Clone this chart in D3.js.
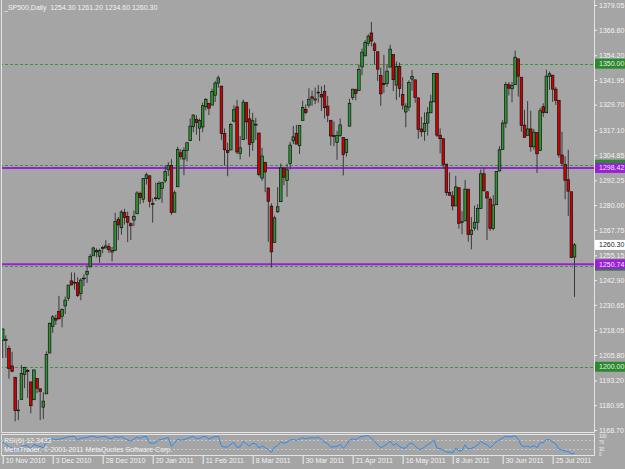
<!DOCTYPE html>
<html lang="en">
<head>
<meta charset="UTF-8">
<title>SP500 Daily</title>
<script src="https://d3js.org/d3.v7.min.js"></script>
<style>
  body { margin: 0; background: #a5a5a5; }
  svg { display: block; }
  text { font-family: "Liberation Sans", Arial, sans-serif; font-size: 7px; fill: #f2f2f2; }
  .axis path { display: none; }
  .axis line { stroke: #eeeeee; }
  .rsi-axis text { font-size: 4.5px; }
</style>
</head>
<body>
<script>
// trading days shown on the chart
const dates = [
  "2010.11.10","2010.11.11","2010.11.12","2010.11.15","2010.11.16","2010.11.17","2010.11.18","2010.11.19","2010.11.22","2010.11.23","2010.11.24","2010.11.26","2010.11.29","2010.11.30",
  "2010.12.01","2010.12.02","2010.12.03","2010.12.06","2010.12.07","2010.12.08","2010.12.09","2010.12.10","2010.12.13","2010.12.14","2010.12.15","2010.12.16","2010.12.17","2010.12.20","2010.12.21","2010.12.22","2010.12.23","2010.12.27","2010.12.28","2010.12.29","2010.12.30","2010.12.31",
  "2011.01.03","2011.01.04","2011.01.05","2011.01.06","2011.01.07","2011.01.10","2011.01.11","2011.01.12","2011.01.13","2011.01.14","2011.01.18","2011.01.19","2011.01.20","2011.01.21","2011.01.24","2011.01.25","2011.01.26","2011.01.27","2011.01.28","2011.01.31",
  "2011.02.01","2011.02.02","2011.02.03","2011.02.04","2011.02.07","2011.02.08","2011.02.09","2011.02.10","2011.02.11","2011.02.14","2011.02.15","2011.02.16","2011.02.17","2011.02.18","2011.02.22","2011.02.23","2011.02.24","2011.02.25","2011.02.28",
  "2011.03.01","2011.03.02","2011.03.03","2011.03.04","2011.03.07","2011.03.08","2011.03.09","2011.03.10","2011.03.11","2011.03.14","2011.03.15","2011.03.16","2011.03.17","2011.03.18","2011.03.21","2011.03.22","2011.03.23","2011.03.24","2011.03.25","2011.03.28","2011.03.29","2011.03.30","2011.03.31",
  "2011.04.01","2011.04.04","2011.04.05","2011.04.06","2011.04.07","2011.04.08","2011.04.11","2011.04.12","2011.04.13","2011.04.14","2011.04.15","2011.04.18","2011.04.19","2011.04.20","2011.04.21","2011.04.25","2011.04.26","2011.04.27","2011.04.28","2011.04.29",
  "2011.05.02","2011.05.03","2011.05.04","2011.05.05","2011.05.06","2011.05.09","2011.05.10","2011.05.11","2011.05.12","2011.05.13","2011.05.16","2011.05.17","2011.05.18","2011.05.19","2011.05.20","2011.05.23","2011.05.24","2011.05.25","2011.05.26","2011.05.27","2011.05.31",
  "2011.06.01","2011.06.02","2011.06.03","2011.06.06","2011.06.07","2011.06.08","2011.06.09","2011.06.10","2011.06.13","2011.06.14","2011.06.15","2011.06.16","2011.06.17","2011.06.20","2011.06.21","2011.06.22","2011.06.23","2011.06.24","2011.06.27","2011.06.28","2011.06.29","2011.06.30",
  "2011.07.01","2011.07.05","2011.07.06","2011.07.07","2011.07.08","2011.07.11","2011.07.12","2011.07.13","2011.07.14","2011.07.15","2011.07.18","2011.07.19","2011.07.20","2011.07.21","2011.07.22","2011.07.25","2011.07.26","2011.07.27","2011.07.28","2011.07.29",
  "2011.08.01","2011.08.02","2011.08.03"
];

const open = [
  1213.1,1213.0,1209.1,1200.4,1194.8,1178.3,1183.8,1196.1,1198.1,1192.5,1183.7,1194.2,1189.1,1180.0,
  1186.6,1206.8,1219.9,1223.9,1227.3,1225.0,1230.1,1233.9,1242.5,1241.8,1241.6,1236.3,1243.6,1245.8,1249.4,1254.9,1257.5,1254.7,1259.1,1258.8,1259.4,1256.8,
  1257.6,1273.0,1268.8,1276.3,1274.4,1270.8,1272.6,1275.7,1285.8,1282.9,1293.2,1294.5,1280.9,1283.6,1283.3,1288.2,1292.0,1297.5,1299.6,1276.5,
  1289.1,1305.9,1302.8,1307.0,1311.9,1318.8,1322.5,1318.1,1318.7,1328.7,1330.4,1329.5,1334.4,1340.4,1338.9,1315.4,1307.1,1307.3,1321.6,
  1328.6,1305.5,1312.4,1330.7,1322.7,1311.1,1319.9,1315.7,1293.4,1301.2,1288.5,1279.5,1261.6,1276.7,1281.7,1298.3,1292.2,1300.6,1311.8,1315.5,1309.4,1321.9,1327.4,
  1329.5,1333.6,1332.0,1335.9,1334.8,1336.2,1329.0,1322.0,1314.0,1311.1,1314.5,1313.4,1306.0,1319.1,1333.2,1337.1,1336.8,1348.4,1353.9,1360.1,
  1365.2,1359.8,1355.9,1344.2,1340.2,1340.2,1348.3,1354.5,1339.4,1348.7,1334.8,1326.1,1328.5,1342.4,1342.0,1333.1,1317.7,1316.4,1320.6,1325.7,1331.1,
  1345.2,1314.6,1312.9,1300.3,1286.3,1284.6,1279.6,1288.6,1271.6,1272.2,1287.9,1265.5,1268.6,1271.5,1278.4,1295.5,1286.6,1283.0,1268.4,1280.2,1296.9,1307.6,
  1320.6,1339.6,1337.6,1339.6,1352.4,1343.3,1319.6,1314.5,1317.7,1308.9,1315.9,1307.1,1328.7,1325.7,1343.8,1344.3,1337.4,1331.9,1304.8,1300.1,
  1292.6,1286.6,1254.3
];

const high = [
  1218.8,1215.5,1210.5,1207.4,1194.8,1183.6,1200.9,1200.0,1198.9,1192.5,1198.6,1194.2,1189.1,1187.4,
  1207.6,1221.9,1225.6,1225.8,1235.1,1228.9,1234.7,1240.4,1246.7,1246.6,1244.3,1243.8,1245.8,1250.2,1255.8,1259.4,1258.6,1258.4,1259.9,1262.6,1261.1,1259.3,
  1276.2,1274.1,1277.6,1278.2,1276.8,1271.5,1277.3,1286.9,1286.7,1293.2,1296.1,1294.6,1283.4,1291.2,1291.9,1291.3,1299.7,1301.3,1302.7,1287.2,
  1308.9,1307.6,1308.6,1311.0,1322.9,1324.9,1324.5,1322.8,1330.8,1333.0,1330.4,1337.6,1341.5,1344.1,1338.9,1317.9,1310.9,1320.6,1329.4,
  1332.1,1314.2,1332.3,1331.1,1327.7,1325.7,1323.2,1315.7,1308.4,1301.2,1288.5,1280.9,1274.8,1288.9,1300.6,1299.0,1300.5,1311.3,1319.2,1319.7,1319.5,1331.7,1329.8,
  1337.8,1336.7,1338.2,1339.4,1338.8,1339.5,1334.0,1322.0,1321.4,1316.8,1322.9,1313.4,1312.7,1332.7,1337.5,1337.6,1349.6,1357.5,1361.7,1364.6,
  1370.6,1360.8,1355.9,1348.0,1354.4,1349.4,1359.4,1354.5,1351.1,1350.5,1343.3,1330.4,1341.8,1346.8,1342.0,1333.1,1323.7,1325.9,1328.5,1334.6,1345.2,
  1345.2,1318.0,1312.9,1300.3,1296.2,1287.0,1294.5,1288.6,1277.0,1292.5,1287.9,1274.1,1279.8,1280.4,1297.6,1298.6,1286.8,1283.9,1284.9,1296.8,1309.2,1322.0,
  1341.0,1340.9,1340.9,1356.5,1352.4,1343.3,1327.2,1331.5,1326.7,1317.7,1315.9,1328.1,1330.4,1347.0,1346.1,1344.3,1338.5,1331.9,1316.3,1304.2,
  1307.4,1286.6,1261.2
];

const low = [
  1204.3,1204.5,1194.1,1197.2,1173.0,1173.6,1183.8,1189.4,1184.5,1176.9,1183.7,1186.9,1173.6,1174.1,
  1186.6,1206.8,1216.8,1220.7,1223.3,1219.5,1226.1,1232.6,1240.3,1238.2,1234.5,1232.9,1239.9,1241.5,1249.4,1254.9,1254.1,1251.5,1256.2,1258.8,1256.3,1252.2,
  1257.6,1262.7,1265.4,1270.4,1261.7,1262.7,1269.6,1275.7,1280.5,1281.1,1290.2,1278.9,1271.3,1282.1,1282.5,1281.1,1291.0,1294.4,1275.1,1276.5,
  1289.1,1302.6,1294.8,1301.7,1311.9,1316.0,1314.9,1311.7,1316.1,1326.9,1324.6,1329.5,1331.0,1338.1,1312.3,1299.6,1294.3,1307.3,1320.9,
  1305.2,1302.6,1312.4,1312.6,1304.0,1306.9,1312.3,1294.2,1292.0,1286.4,1261.9,1249.1,1261.6,1276.2,1281.7,1289.9,1284.1,1297.7,1310.2,1310.2,1305.3,1321.9,1325.0,
  1328.2,1329.1,1330.0,1330.7,1326.6,1322.9,1321.1,1309.5,1309.2,1302.4,1313.7,1294.7,1304.0,1319.1,1332.0,1331.9,1336.8,1344.3,1353.6,1358.7,
  1358.6,1349.5,1341.5,1329.2,1335.6,1338.6,1348.3,1336.4,1332.0,1333.4,1327.3,1318.5,1326.6,1336.7,1330.7,1312.9,1313.9,1311.8,1314.4,1325.7,1331.1,
  1313.7,1305.6,1297.9,1284.7,1284.7,1277.4,1279.6,1268.3,1265.6,1272.2,1261.9,1258.1,1267.4,1267.6,1278.4,1286.8,1262.7,1267.2,1267.5,1280.2,1296.9,1307.6,
  1318.3,1334.3,1330.9,1339.6,1333.7,1316.4,1313.3,1314.5,1306.5,1307.4,1295.9,1307.1,1323.7,1325.7,1337.0,1331.1,1329.6,1303.5,1299.2,1282.9,
  1274.7,1254.0,1234.6
];

const close = [
  1218.7,1213.5,1199.2,1197.8,1178.3,1178.6,1196.7,1199.7,1197.8,1180.7,1198.4,1189.4,1187.8,1183.0,
  1206.1,1221.5,1224.7,1223.1,1223.8,1228.3,1233.0,1240.4,1240.5,1241.6,1235.2,1242.9,1243.9,1247.1,1254.6,1258.8,1256.8,1257.5,1258.5,1259.8,1257.9,1257.6,
  1271.9,1270.2,1276.6,1273.9,1271.5,1269.8,1274.5,1286.0,1283.8,1293.2,1295.0,1281.9,1280.3,1283.4,1290.8,1291.2,1296.6,1299.5,1276.3,1286.1,
  1307.6,1304.0,1307.1,1310.9,1319.1,1324.6,1320.9,1321.9,1329.2,1332.3,1328.0,1336.3,1340.4,1343.0,1315.4,1307.4,1306.1,1319.9,1327.2,
  1306.3,1308.4,1331.0,1321.2,1310.1,1321.8,1320.0,1295.1,1304.3,1296.4,1281.9,1256.9,1273.7,1279.2,1298.4,1293.8,1297.5,1309.7,1313.8,1310.2,1319.4,1328.3,1325.8,
  1332.4,1332.9,1332.6,1335.5,1333.5,1328.2,1324.5,1314.2,1314.4,1314.5,1319.7,1305.1,1312.6,1330.4,1337.4,1335.3,1347.2,1355.7,1360.5,1363.6,
  1361.2,1356.6,1347.3,1335.1,1340.2,1346.3,1357.2,1342.1,1348.7,1337.8,1329.5,1329.0,1340.7,1343.6,1333.3,1317.4,1316.3,1320.5,1325.7,1331.1,1345.2,
  1314.6,1312.9,1300.2,1286.2,1284.9,1279.6,1289.0,1271.0,1271.8,1287.9,1265.4,1267.6,1271.5,1278.4,1295.5,1287.1,1283.5,1268.5,1280.1,1296.7,1307.4,1320.6,
  1339.7,1337.9,1339.2,1353.2,1343.8,1319.5,1313.6,1317.7,1308.9,1316.1,1305.4,1326.7,1325.8,1343.8,1345.0,1337.4,1331.9,1304.9,1300.7,1292.3,
  1286.9,1254.1,1260.3
];

// RSI(6)
const rsi = [
  62,55,38,36,20,21,42,47,46,31,52,45,43,36,
  63,74,76,73,74,78,81,86,86,87,70,79,80,83,87,89,83,84,86,87,78,77,
  88,82,86,78,71,67,74,84,78,86,87,58,55,61,72,73,79,82,43,57,
  75,70,73,77,83,87,77,79,85,87,75,82,86,88,45,40,40,52,60,
  38,41,65,54,44,56,54,35,45,38,28,16,40,46,63,57,61,71,74,69,76,81,76,
  80,81,80,83,75,62,55,40,41,42,52,35,48,70,76,72,82,87,89,91,
  79,66,50,36,45,53,66,47,55,43,35,35,54,58,45,31,30,40,50,58,72,
  35,33,25,18,17,14,36,22,24,50,31,34,40,48,66,55,51,36,50,64,72,80,
  88,85,86,91,74,46,41,45,38,47,37,60,59,72,73,62,54,30,27,22,
  20,10,12.34
];

const priceTicks = [1379.05,1366.80,1354.20,1341.95,1329.70,1317.10,1304.85,1292.25,1280.00,
  1267.75,1255.15,1242.90,1230.65,1218.05,1205.80,1193.20,1180.95,1168.70];
const tickDates = ["2010.11.10","2010.12.03","2010.12.28","2011.01.20","2011.02.11","2011.03.08",
  "2011.03.30","2011.04.21","2011.05.16","2011.06.08","2011.06.30","2011.07.25"];
const tickLabels = ["10 Nov 2010","3 Dec 2010","28 Dec 2010","20 Jan 2011","11 Feb 2011","8 Mar 2011",
  "30 Mar 2011","21 Apr 2011","16 May 2011","8 Jun 2011","30 Jun 2011","25 Jul 2011"];
const greenLevels = [1350, 1300, 1250, 1200];
const hiddenGreen = [1300, 1250];   // labels covered by the purple ones
const purpleLevels = [1298.42, 1250.74];
const rsiLevels = [70, 30];
const rsiTicks = [100, 70, 30, 0];

const W = 625, H = 469;
const PANEL_R = 594, PANEL_B = 432;
const GREEN = "#36983a", PURPLE = "#9a20d8";

const svg = d3.select("body").append("svg")
  .attr("width", W)
  .attr("height", H);

svg.append("rect").attr("width", W).attr("height", H).attr("fill", "#a5a5a5");

const x = d3.scalePoint().domain(dates).range([2.7, 574.5]);
const y = d3.scaleLinear().domain([1168.70, 1379.05]).range([430, 5]);
const yr = d3.scaleLinear().domain([0, 100]).range([456, 433.5]);
// the tiny sub window squeezes its scale labels together
const yrLabel = d3.scaleLinear().domain([0, 100]).range([454.5, 436.5]);

svg.append("clipPath").attr("id", "main")
  .append("rect").attr("x", 1).attr("y", 0).attr("width", PANEL_R - 1).attr("height", PANEL_B);
svg.append("clipPath").attr("id", "sub")
  .append("rect").attr("x", 1).attr("y", 435).attr("width", PANEL_R - 1).attr("height", 20);

// horizontal levels
const levels = svg.append("g").attr("clip-path", "url(#main)");
levels.selectAll(".glevel")
  .data(greenLevels)
  .enter().append("line")
  .attr("x1", 0).attr("x2", PANEL_R)
  .attr("y1", d => Math.round(y(d)) + 0.5).attr("y2", d => Math.round(y(d)) + 0.5)
  .attr("stroke", GREEN).attr("stroke-dasharray", "3,2");
levels.selectAll(".plevel")
  .data(purpleLevels)
  .enter().append("line")
  .attr("x1", 0).attr("x2", PANEL_R)
  .attr("y1", d => y(d)).attr("y2", d => y(d))
  .attr("stroke", PURPLE).attr("stroke-width", 2);

// candles
const bars = dates.map((d, i) => ({ d, o: open[i], h: high[i], l: low[i], c: close[i] }));
const candles = svg.append("g").attr("clip-path", "url(#main)");
const bw = 2.6;

candles.selectAll(".wick")
  .data(bars)
  .enter().append("line")
  .attr("x1", b => x(b.d)).attr("x2", b => x(b.d))
  .attr("y1", b => y(b.h)).attr("y2", b => y(b.l))
  .attr("stroke", "#3a3a3a").attr("stroke-width", 1);

candles.selectAll(".body")
  .data(bars)
  .enter().append("rect")
  .attr("x", b => x(b.d) - bw / 2)
  .attr("y", b => y(Math.max(b.o, b.c)))
  .attr("width", bw)
  .attr("height", b => Math.max(0.8, Math.abs(y(b.o) - y(b.c))))
  .attr("fill", b => b.c > b.o ? "#2e9432" : (b.c < b.o ? "#d00000" : "#000"))
  .attr("stroke", "#111")
  .attr("stroke-width", 0.7);

// frames
svg.append("path")
  .attr("d", `M1.5,0 V${PANEL_B + 0.5} H${PANEL_R + 0.5} V0`)
  .attr("fill", "none").attr("stroke", "#e4e4e4");
svg.append("rect")
  .attr("x", 1.5).attr("y", 434.5).attr("width", PANEL_R - 1).attr("height", 21)
  .attr("fill", "none").attr("stroke", "#e4e4e4");

// price axis
svg.append("g")
  .attr("class", "axis")
  .attr("transform", `translate(${PANEL_R},0)`)
  .call(d3.axisRight(y).tickValues(priceTicks).tickSize(3).tickPadding(2).tickFormat(d3.format(".2f")));

// coloured price boxes
function priceBox(p, fill, txt, label) {
  const g = svg.append("g").attr("transform", `translate(${PANEL_R + 1},${y(p)})`);
  g.append("rect").attr("x", 0).attr("y", -5).attr("width", W - PANEL_R).attr("height", 10).attr("fill", fill);
  if (label) g.append("text").attr("x", 4).attr("dy", "0.34em").style("fill", txt).text(d3.format(".2f")(p));
}
greenLevels.forEach(p => priceBox(p, "#2a8a2e", "#e8e8e8", !hiddenGreen.includes(p)));
purpleLevels.forEach(p => priceBox(p, PURPLE, "#e8e8e8", true));
priceBox(close[close.length - 1], "#ffffff", "#222", true);

// RSI panel
const sub = svg.append("g").attr("clip-path", "url(#sub)");
sub.selectAll(".rlevel")
  .data(rsiLevels)
  .enter().append("line")
  .attr("x1", 1).attr("x2", PANEL_R)
  .attr("y1", d => Math.round(yr(d)) + 0.5).attr("y2", d => Math.round(yr(d)) + 0.5)
  .attr("stroke", "#c8c8c8").attr("stroke-dasharray", "2,2");
sub.append("path")
  .datum(rsi)
  .attr("fill", "none")
  .attr("stroke", "#2a8cf0")
  .attr("stroke-width", 1)
  .attr("d", d3.line().x((d, i) => x(dates[i])).y(d => yr(d)));

svg.append("g")
  .attr("class", "axis rsi-axis")
  .attr("transform", `translate(${PANEL_R},0)`)
  .call(d3.axisRight(yrLabel).tickValues(rsiTicks).tickSize(0).tickPadding(5).tickFormat(d3.format("d")));

svg.append("text").attr("x", 4).attr("y", 443).text("RSI(6) 12.3433");
svg.append("text").attr("x", 4).attr("y", 451.5).text("MetaTrader, \u00a9 2001-2011 MetaQuotes Software Corp.");

// time axis
const dateAxis = svg.append("g")
  .attr("class", "axis")
  .attr("transform", `translate(0,456)`)
  .call(d3.axisBottom(x).tickValues(tickDates).tickSize(8).tickFormat((d, i) => tickLabels[i]));
dateAxis.selectAll("text")
  .attr("x", 2.5).attr("y", 2).attr("text-anchor", "start");

// title
svg.append("text").attr("x", 4).attr("y", 10)
  .attr("xml:space", "preserve")
  .text("_SP500,Daily  1254.30 1261.20 1234.60 1260.30");
</script>
</body>
</html>
